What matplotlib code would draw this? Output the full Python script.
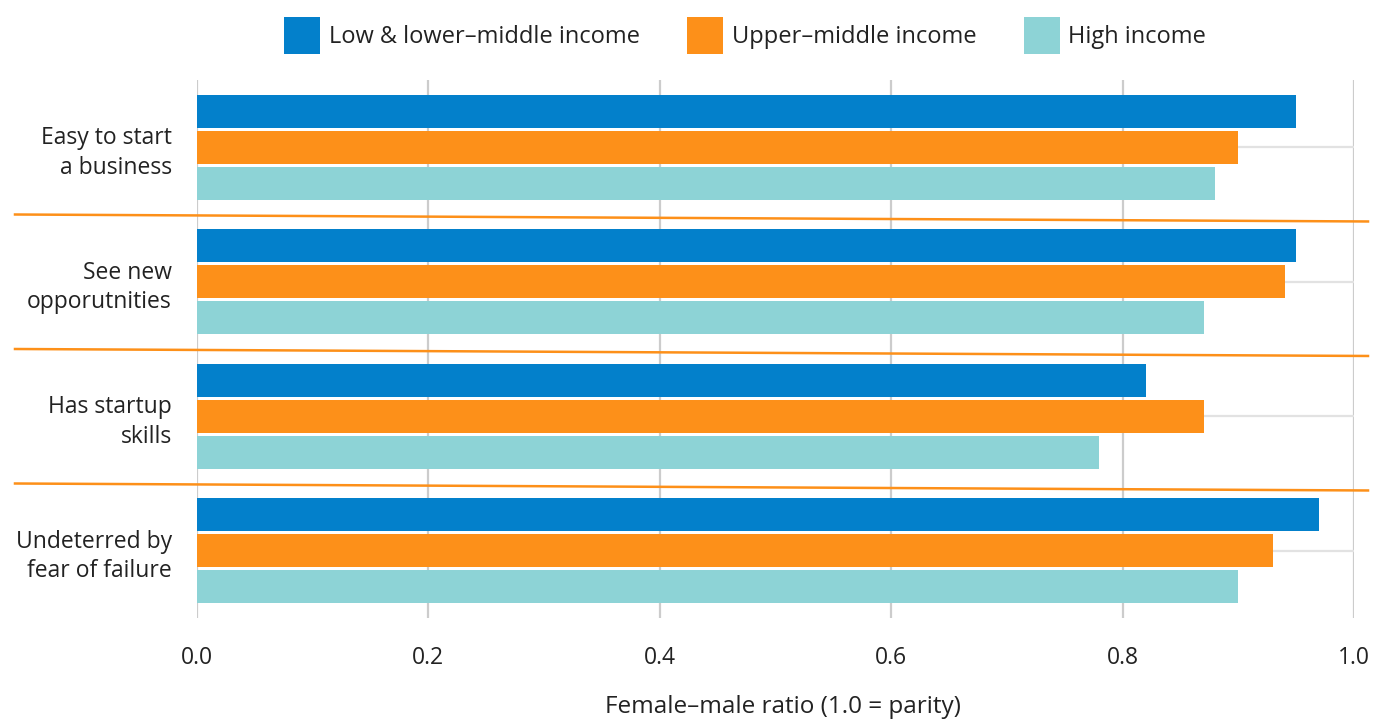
import matplotlib
matplotlib.use("Agg")
import matplotlib.pyplot as plt
import numpy as np
from matplotlib.patches import Patch

plt.rcParams['font.family'] = ['Open Sans', 'DejaVu Sans']

categories = ["Easy to start\na business", "See new\nopporutnities", "Has startup\nskills", "Undeterred by\nfear of failure"]
series_names = ["Low & lower–middle income", "Upper–middle income", "High income"]
low_income = [0.95, 0.95, 0.82, 0.97]
upper_middle = [0.90, 0.94, 0.87, 0.93]
high_income = [0.88, 0.87, 0.78, 0.90]
colors = ["#0380CB", "#FD9019", "#8DD3D6"]
xticks = [0.0, 0.2, 0.4, 0.6, 0.8, 1.0]

W, H = 1373, 720
fig = plt.figure(figsize=(W/100, H/100), dpi=100)
ax = fig.add_axes([197/W, 1 - 618/H, (1354-197)/W, (618-80)/H])

y = np.arange(len(categories))
bh = 0.245
off = 0.267
for i, (vals, c) in enumerate(zip([low_income, upper_middle, high_income], colors)):
    ax.barh(y + (i-1)*off, vals, height=bh, color=c, zorder=3)

ax.set_ylim(len(categories)-0.5, -0.5)
ax.set_xlim(0, 1.0)
ax.set_xticks(xticks)
ax.set_xticklabels([f"{v:.1f}" for v in xticks])
ax.set_yticks(y)
ax.set_yticklabels(categories, ha='right', linespacing=1.3)
for s in ax.spines.values():
    s.set_visible(False)
ax.tick_params(axis='both', length=0, labelsize=16.5, labelcolor='#222222')
ax.tick_params(axis='x', pad=20)
ax.tick_params(axis='y', pad=18)
ax.grid(axis='x', color='#cccccc', linewidth=1.6, zorder=1)
ax.grid(axis='y', color='#e2e2e2', linewidth=1.6, zorder=1)
ax.set_axisbelow(True)
fig.text(783/W, 1/H, "Female–male ratio (1.0 = parity)", fontsize=17.5, color='#222222',
         ha='center', va='bottom')

# tilted orange separators between categories
x0, x1 = (15-197)/1157, (1368-197)/1157
for b in y[:-1] + 0.5:
    ax.plot([x0, x1], [b, b + 7/135], color="#FD9019", lw=1.8, clip_on=False, zorder=4)

handles = [Patch(facecolor=c, edgecolor='none') for c in colors]
fig.legend(handles, series_names, loc='upper center', bbox_to_anchor=(745/W, 1 + 4/H),
           ncol=3, frameon=False, fontsize=17, handlelength=1.55, handleheight=2.0,
           handletextpad=0.35, columnspacing=2.0, labelcolor='#222222')

fig.savefig("out.png", dpi=100)
